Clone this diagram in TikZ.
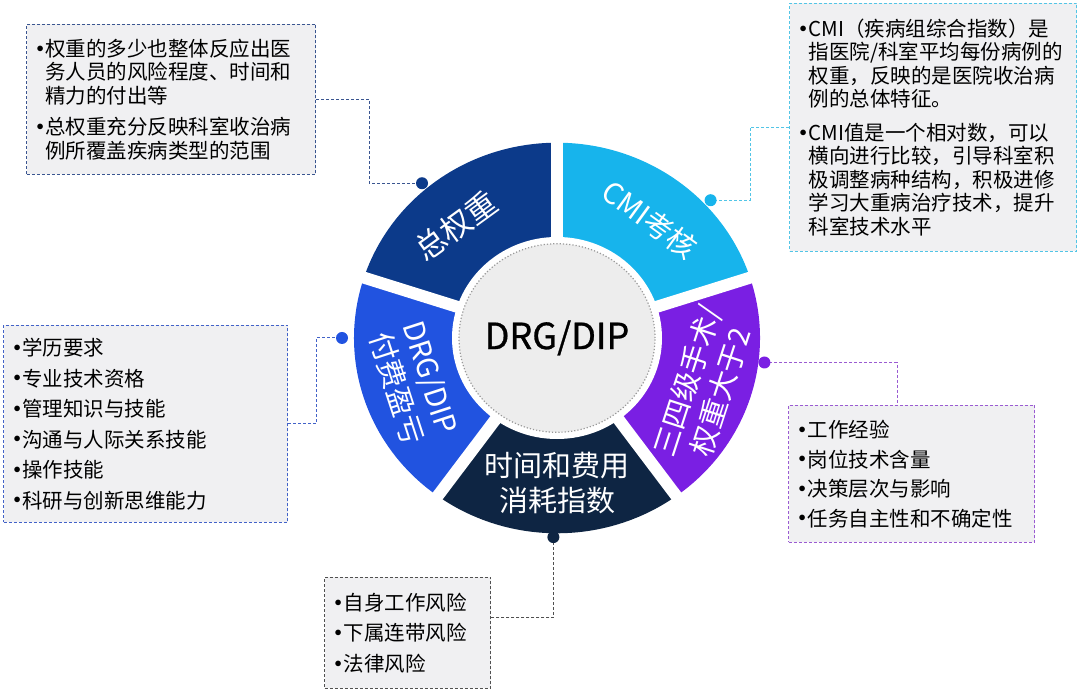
\documentclass[tikz,border=0pt]{standalone}
\usepackage{fontspec}
\setmainfont{Noto Sans CJK SC}
\usetikzlibrary{positioning}
\definecolor{mnavy}{HTML}{0C3A8A}
\definecolor{mcyan}{HTML}{17B4EC}
\definecolor{mpurp}{HTML}{7A1FE3}
\definecolor{mdark}{HTML}{0E2543}
\definecolor{mblue}{HTML}{2153E0}
\definecolor{mfill}{HTML}{F0F0F2}
\definecolor{bnavy}{HTML}{3A5590}
\definecolor{bcyan}{HTML}{52C5E6}
\definecolor{bblue}{HTML}{4262C8}
\definecolor{bpurp}{HTML}{9A5BD2}
\definecolor{bgray}{HTML}{505050}
\tikzstyle{notebox} = [rectangle, dashed, dash pattern=on 3pt off 2pt, line width=1pt, fill=mfill, inner xsep=10pt, align=left, anchor=north west, font=\fontsize{20.5}{23.5}\selectfont]
\tikzstyle{seglabel} = [text=white, align=center, font=\fontsize{29}{35}\selectfont]
\tikzstyle{leader} = [dashed, dash pattern=on 3pt off 2pt, line width=1pt]
\tikzstyle{hubring} = [fill=black!7, draw=black!40, dotted, line width=1.2pt]
\newcommand{\bul}{\makebox[9pt][l]{\raisebox{0.2em}{$\scriptstyle\bullet$}}}
\newcommand{\ind}{\hspace*{9pt}}
\begin{document}
\begin{tikzpicture}[x=1pt, y=1pt]
  \useasboundingbox (0,0) rectangle (1080,690);
  \coordinate (c) at (557,352);
  \begin{scope}[shift={(c)}, yscale=0.962]
    \fill[mnavy] (0,0) -- (90:203) arc[start angle=90, end angle=162, radius=203] -- cycle;
    \fill[mblue] (0,0) -- (162:203) arc[start angle=162, end angle=234, radius=203] -- cycle;
    \fill[mdark] (0,0) -- (234:203) arc[start angle=234, end angle=306, radius=203] -- cycle;
    \fill[mpurp] (0,0) -- (306:203) arc[start angle=306, end angle=378, radius=203] -- cycle;
    \fill[mcyan] (0,0) -- (18:203) arc[start angle=18, end angle=90, radius=203] -- cycle;
    \foreach \a in {18,90,162,234,306}
      \draw[white, line width=12pt] (0,0) -- (\a:215);
    \fill[white] (0,0) circle[radius=105];
    \draw[hubring] (0,0) circle[radius=98];
    \node (hub) at (0,0) {\fontsize{36}{40}\selectfont\addfontfeature{FakeBold=0.8}DRG/DIP};
    \node (wlab) [seglabel, rotate=36, font=\fontsize{31}{35}\selectfont] at (131:154) {总权重};
    \node (clab) [seglabel, rotate=-36] at (53:154) {CMI考核};
    \node (plab) [seglabel, rotate=72] at (-19:155) {三四级手术/\\权重大于2};
    \node (tlab) [seglabel] at (-90:151) {时间和费用\\消耗指数};
    \node (dlab) [seglabel, rotate=-72] at (198:151) {DRG/DIP\\付费盈亏};
    \coordinate (d1) at (130:210);
    \coordinate (d2) at (43:210);
    \coordinate (d3) at (180:215);
    \coordinate (d4) at (-7:209);
    \coordinate (d5) at (-91:207);
  \end{scope}

  \node (wbox) [notebox, draw=bnavy, minimum width=289pt, minimum height=150pt, text width=269pt] at (26,666)
    {\bul 权重的多少也整体反应出医\\ \ind 务人员的风险程度、时间和\\ \ind 精力的付出等\\[8pt]
     \bul 总权重充分反映科室收治病\\ \ind 例所覆盖疾病类型的范围};
  \node (cbox) [notebox, draw=bcyan, minimum width=287pt, minimum height=248pt, text width=267pt] at (789,687)
    {\bul CMI（疾病组综合指数）是\\ \ind 指医院/科室平均每份病例的\\ \ind 权重，反映的是医院收治病\\ \ind 例的总体特征。\\[10pt]
     \bul CMI值是一个相对数，可以\\ \ind 横向进行比较，引导科室积\\ \ind 极调整病种结构，积极进修\\ \ind 学习大重病治疗技术，提升\\ \ind 科室技术水平};
  \node (dbox) [notebox, draw=bblue, minimum width=284pt, minimum height=197pt, text width=264pt] at (3,365)
    {\bul 学历要求\\[7pt] \bul 专业技术资格\\[7pt] \bul 管理知识与技能\\[7pt] \bul 沟通与人际关系技能\\[7pt] \bul 操作技能\\[7pt] \bul 科研与创新思维能力};
  \node (pbox) [notebox, draw=bpurp, minimum width=246pt, minimum height=137pt, text width=226pt] at (788,285)
    {\bul 工作经验\\[6pt] \bul 岗位技术含量\\[6pt] \bul 决策层次与影响\\[6pt] \bul 任务自主性和不确定性};
  \node (tbox) [notebox, draw=bgray, minimum width=166pt, minimum height=111pt, text width=146pt] at (324,113)
    {\bul 自身工作风险\\[7pt] \bul 下属连带风险\\[7pt] \bul 法律风险};

  \draw [leader, bnavy] (wbox.east) -- ++(53,0) |- (d1);
  \draw [leader, bcyan] (cbox.west) -- ++(-39,0) |- (d2);
  \draw [leader, bblue] (dbox.east) -- ++(28,0) |- (d3);
  \draw [leader, bpurp] (d4) -| ([xshift=109pt]pbox.north west);
  \draw [leader, bgray] (d5) |- ([yshift=-41pt]tbox.north east);
  \fill [mnavy] (d1) circle[radius=6];
  \fill [mcyan] (d2) circle[radius=6];
  \fill [mblue] (d3) circle[radius=6];
  \fill [mpurp] (d4) circle[radius=6];
  \fill [mdark] (d5) circle[radius=6];
\end{tikzpicture}
\end{document}
